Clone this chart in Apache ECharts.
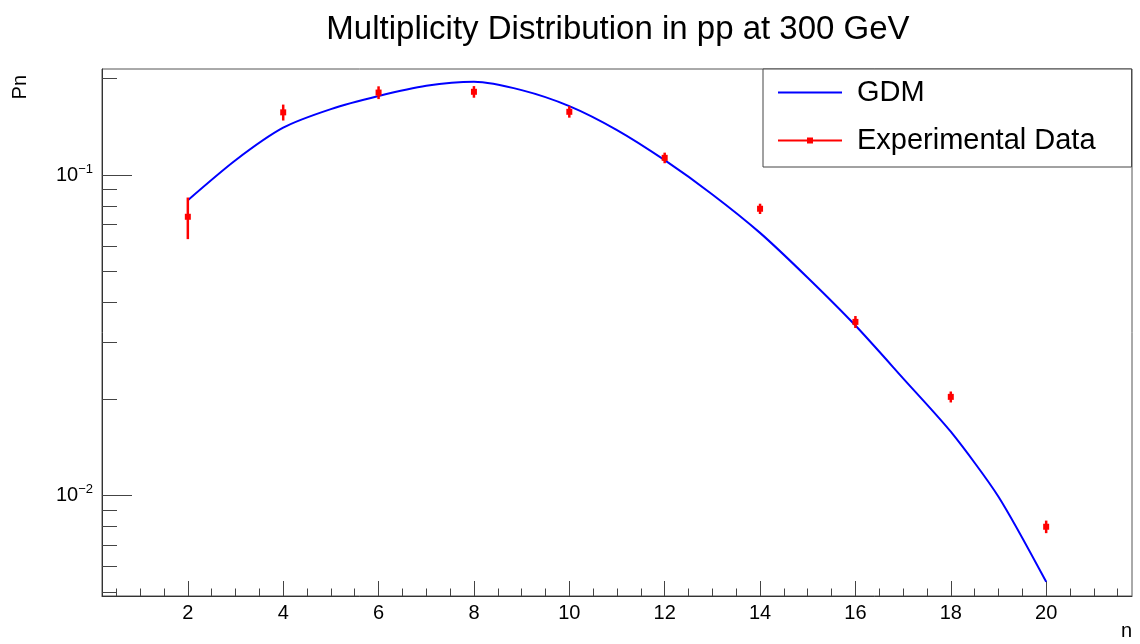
<!DOCTYPE html>
<html>
<head>
<meta charset="utf-8">
<title>Multiplicity Distribution in pp at 300 GeV</title>
<script src="https://cdn.jsdelivr.net/npm/echarts@6/dist/echarts.min.js"></script>
<style>
  html, body { margin: 0; padding: 0; background: #fff; }
  #chart { width: 1140px; height: 644px; }
</style>
</head>
<body>
<div id="chart"></div>
<script>
  // GDM curve, one value per n
  var gdmN = [2, 3, 4, 5, 6, 7, 8, 9, 10, 11, 12, 13, 14, 15, 16, 17, 18, 19, 20];
  var gdmPn = [0.0835, 0.1113, 0.1406, 0.1607, 0.1765, 0.190, 0.1956, 0.1842, 0.1642, 0.1382,
               0.1113, 0.087, 0.066, 0.0478, 0.0339, 0.0232, 0.0158, 0.0099, 0.00537];

  // experimental points (symmetric errors)
  var expN = [2, 4, 6, 8, 10, 12, 14, 16, 18, 20];
  var expPn = [0.0741, 0.157, 0.181, 0.182, 0.1576, 0.1132, 0.0785, 0.0348, 0.0203, 0.00798];
  var expErr = [0.011, 0.009, 0.0083, 0.0076, 0.0065, 0.0043, 0.0029, 0.0015, 0.0008, 0.00036];

  // axis ranges / ticks
  var xMin = 0.2, xMax = 21.8;
  var yMin = 0.00485, yMax = 0.2144;
  var xMajorTicks = [2, 4, 6, 8, 10, 12, 14, 16, 18, 20];
  var xMinorTicks = [0.5, 1, 1.5, 2.5, 3, 3.5, 4.5, 5, 5.5, 6.5, 7, 7.5, 8.5, 9, 9.5, 10.5, 11, 11.5,
                     12.5, 13, 13.5, 14.5, 15, 15.5, 16.5, 17, 17.5, 18.5, 19, 19.5, 20.5, 21, 21.5];
  var yMajorTicks = [0.01, 0.1];
  var yMinorTicks = [0.005, 0.006, 0.007, 0.008, 0.009, 0.02, 0.03, 0.04, 0.05, 0.06, 0.07, 0.08, 0.09, 0.2];

  var FONT = "'Liberation Sans', Arial, Helvetica, sans-serif";

  var chart = echarts.init(document.getElementById('chart'));

  var errData = expN.map(function (n, i) {
    return [n, expPn[i] - expErr[i], expPn[i] + expErr[i]];
  });

  // tick axes are plain value axes in log10 space, laid over the log axis
  var lgMin = Math.log10(yMin), lgMax = Math.log10(yMax);
  var toLog = function (v) { return Math.log10(v); };

  var option = {
    animation: false,
    backgroundColor: '#fff',
    title: {
      text: 'Multiplicity Distribution in pp at 300 GeV',
      left: 613,
      textAlign: 'center',
      top: 8,
      textStyle: { fontFamily: FONT, fontSize: 33, fontWeight: 'normal', color: '#000' }
    },
    legend: {
      orient: 'vertical',
      left: 763,
      top: 69,
      padding: [9, 36, 12, 14],
      itemWidth: 64,
      itemHeight: 7.5,
      itemGap: 19,
      borderColor: '#444',
      borderWidth: 1,
      backgroundColor: '#fff',
      textStyle: { fontFamily: FONT, fontSize: 29, color: '#000', padding: [0, 0, 0, 10] },
      data: [
        { name: 'GDM', itemStyle: { opacity: 0 }, lineStyle: { color: '#0000ff', width: 2 } },
        { name: 'Experimental Data', itemStyle: { color: '#ff0000' }, lineStyle: { color: '#ff0000', width: 2, opacity: 1 } }
      ]
    },
    grid: {
      left: 102, right: 8, top: 69, bottom: 48,
      show: true, borderColor: '#555', borderWidth: 1
    },
    xAxis: [
      {
        type: 'value', min: xMin, max: xMax, position: 'bottom',
        axisLine: { show: true, onZero: false, lineStyle: { color: '#333', width: 1 } },
        axisTick: { show: true, inside: true, length: 15, customValues: xMajorTicks, lineStyle: { color: '#444' } },
        axisLabel: { show: true, customValues: xMajorTicks, margin: 7,
                     fontFamily: FONT, fontSize: 20, color: '#000' },
        splitLine: { show: false }
      },
      {
        type: 'value', min: xMin, max: xMax, position: 'bottom',
        axisLine: { show: false },
        axisTick: { show: true, inside: true, length: 7.5, customValues: xMinorTicks, lineStyle: { color: '#444' } },
        axisLabel: { show: false },
        splitLine: { show: false }
      }
    ],
    yAxis: [
      {
        type: 'log', logBase: 10, min: yMin, max: yMax,
        axisLine: { show: false }, axisTick: { show: false },
        axisLabel: { show: false }, splitLine: { show: false }
      },
      {
        type: 'value', min: lgMin, max: lgMax, position: 'left',
        axisLine: { show: true, onZero: false, lineStyle: { color: '#333', width: 1 } },
        axisTick: { show: true, inside: true, length: 30, customValues: yMajorTicks.map(toLog), lineStyle: { color: '#444' } },
        axisLabel: {
          show: true, customValues: yMajorTicks.map(toLog), margin: 9,
          formatter: function (v) {
            return '{b|10}{s|\u2212' + Math.round(Math.abs(v)) + '}';
          },
          rich: {
            b: { fontFamily: FONT, fontSize: 20, color: '#000', lineHeight: 24 },
            s: { fontFamily: FONT, fontSize: 13, color: '#000', lineHeight: 14, verticalAlign: 'top' }
          }
        },
        splitLine: { show: false }
      },
      {
        type: 'value', min: lgMin, max: lgMax, position: 'left',
        axisLine: { show: false },
        axisTick: { show: true, inside: true, length: 15, customValues: yMinorTicks.map(toLog), lineStyle: { color: '#444' } },
        axisLabel: { show: false },
        splitLine: { show: false }
      }
    ],
    graphic: [
      {
        type: 'text', x: 20, y: 75, rotation: Math.PI / 2,
        style: { text: 'Pn', font: '20px ' + FONT, fill: '#000', align: 'right', verticalAlign: 'middle' }
      },
      {
        type: 'text', x: 1132, y: 641,
        style: { text: 'n', font: '20px ' + FONT, fill: '#000', align: 'right', verticalAlign: 'bottom' }
      }
    ],
    series: [
      {
        name: 'GDM',
        type: 'line',
        xAxisIndex: 0, yAxisIndex: 0,
        symbol: 'none',
        smooth: 0.25,
        lineStyle: { color: '#0000ff', width: 2 },
        itemStyle: { color: '#0000ff' },
        data: gdmN.map(function (n, i) { return [n, gdmPn[i]]; }),
        z: 3
      },
      {
        name: 'errors',
        type: 'custom',
        xAxisIndex: 0, yAxisIndex: 0,
        renderItem: function (params, api) {
          var hi = api.coord([api.value(0), api.value(2)]);
          var lo = api.coord([api.value(0), api.value(1)]);
          return {
            type: 'line',
            shape: { x1: hi[0], y1: hi[1], x2: lo[0], y2: lo[1] },
            style: { stroke: '#ff0000', lineWidth: 2.5 }
          };
        },
        encode: { x: 0, y: [1, 2] },
        data: errData,
        z: 4
      },
      {
        name: 'Experimental Data',
        type: 'line',
        xAxisIndex: 0, yAxisIndex: 0,
        symbol: 'rect',
        symbolSize: 6,
        lineStyle: { width: 0, opacity: 0 },
        itemStyle: { color: '#ff0000' },
        data: expN.map(function (n, i) { return [n, expPn[i]]; }),
        z: 5
      }
    ]
  };

  chart.setOption(option);
</script>
</body>
</html>
